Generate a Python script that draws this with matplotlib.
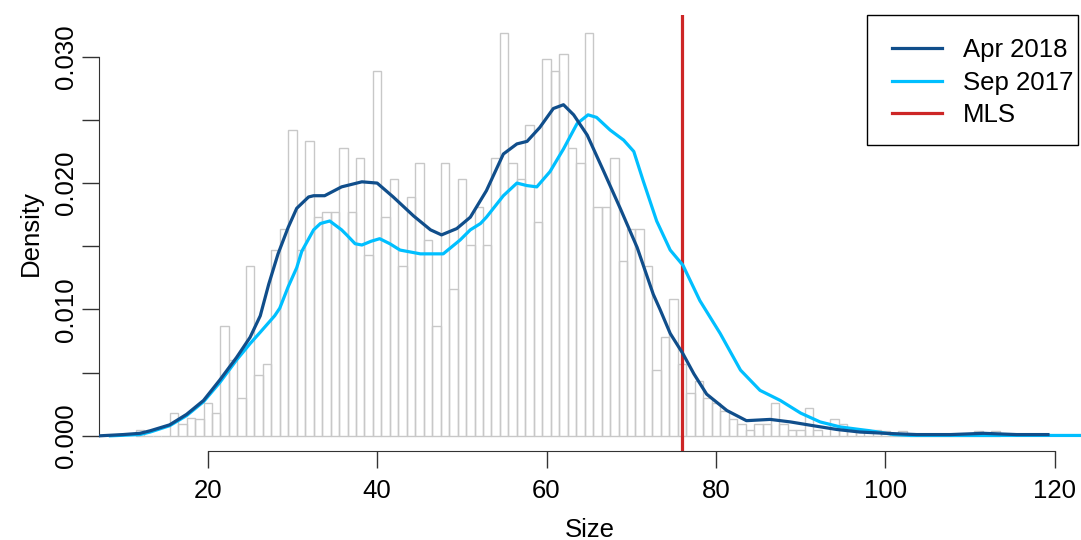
import numpy as np
import matplotlib.pyplot as plt
from matplotlib.patches import Rectangle

plt.rcParams["font.family"] = ["Liberation Sans", "DejaVu Sans"]

# histogram of sizes (bin centres, width 1) as densities
bin_centers = list(range(12, 114))
bin_density = [
    0.00045, 0, 0, 0, 0.0018, 0.0009, 0.0014, 0.0013, 0.0026, 0.0018,   # 12-21
    0.0087, 0.0060, 0.0030, 0.0134, 0.0048, 0.0057, 0.0147, 0.0164, 0.0242, 0.0147,  # 22-31
    0.0233, 0.0173, 0.0177, 0.0177, 0.0228, 0.0177, 0.0220, 0.0143, 0.0289, 0.0173,  # 32-41
    0.0203, 0.0134, 0.0189, 0.0216, 0.0155, 0.0087, 0.0216, 0.0116, 0.0203, 0.0151,  # 42-51
    0.0181, 0.0151, 0.0220, 0.0319, 0.0216, 0.0203, 0.0246, 0.0169, 0.0298, 0.0289,  # 52-61
    0.0302, 0.0228, 0.0216, 0.0319, 0.0181, 0.0181, 0.0220, 0.0138, 0.0164, 0.0164,  # 62-71
    0.0134, 0.0052, 0.0078, 0.0108, 0.0057, 0.0034, 0.0043, 0.0030, 0.0026, 0.0020,  # 72-81
    0.0013, 0.0009, 0.00045, 0.0009, 0.0009, 0.0026, 0.0009, 0.00045, 0.00045, 0.0022,  # 82-91
    0.00045, 0, 0.0013, 0.0009, 0.00045, 0.00045, 0, 0.00045, 0.0004, 0,  # 92-101
    0.0004, 0, 0, 0, 0, 0, 0, 0, 0, 0.0004,  # 102-111
    0, 0.0004,  # 112-113
]

# kernel density curves
apr_x = [7.2, 10, 12, 13.2, 15.5, 17.5, 19.5, 21.4, 23.4, 25, 26.2, 27.2, 28.3, 29.5,
         30.5, 31.9, 32.5, 33.8, 35.8, 38.2, 40, 41.9, 44.3, 46.3, 47.6, 49.4, 51,
         52.9, 54.9, 56.5, 57.7, 59.2, 60.8, 62, 63.2, 64.8, 66.7, 68.7, 70.7, 72.6,
         73.4, 74.6, 76.1, 77.4, 78.9, 81.3, 83.6, 86.4, 88.8, 91.5, 94.3, 97, 100,
         103.7, 107.7, 111.6, 115.5, 119.2]
apr_y = [0, 0.0001, 0.0002, 0.0004, 0.00087, 0.0017, 0.0028, 0.0044, 0.0062, 0.0078,
         0.0095, 0.0120, 0.0144, 0.0165, 0.0180, 0.0189, 0.0190, 0.0190, 0.0197, 0.0201,
         0.0200, 0.0189, 0.0174, 0.0163, 0.0159, 0.0164, 0.0173, 0.0194, 0.0223, 0.0231,
         0.0233, 0.0244, 0.0259, 0.0262, 0.0254, 0.0238, 0.0210, 0.0180, 0.0149, 0.0112,
         0.0100, 0.0081, 0.0065, 0.0049, 0.0033, 0.0020, 0.0012, 0.0013, 0.0011, 0.0008,
         0.0005, 0.0003, 0.0002, 0.0001, 0.0001, 0.0002, 0.0001, 0.0001]

sep_x = [8.5, 12, 13.2, 15.5, 17.5, 19.5, 21.4, 23.4, 25, 26.2, 27.9, 28.5, 29.5, 30.5,
         31.1, 32.5, 33.3, 34.4, 35.8, 36.4, 37.4, 38.2, 39.3, 40.3, 41.5, 42.7, 45.1,
         47.8, 49.8, 51, 52.2, 52.9, 54.9, 56.5, 57.7, 58.85, 60.4, 62, 63.6, 64.9, 65.9,
         67.5, 69.1, 70.3, 71.4, 73, 74.6, 76.1, 78.1, 80.5, 82.9, 85.2, 87.6, 90, 92.3,
         94.7, 97, 98.2, 101, 103, 123.2]
sep_y = [0, 0.0001, 0.0003, 0.0008, 0.0016, 0.0027, 0.0042, 0.0060, 0.0073, 0.0082,
         0.0095, 0.0101, 0.0118, 0.0133, 0.0146, 0.0163, 0.0168, 0.0170, 0.0163, 0.0159,
         0.0152, 0.0151, 0.0154, 0.0156, 0.0152, 0.0147, 0.0144, 0.0144, 0.0155, 0.0163,
         0.0168, 0.0173, 0.0190, 0.0200, 0.0198, 0.0197, 0.0209, 0.0227, 0.0247, 0.0254,
         0.0252, 0.0242, 0.0234, 0.0225, 0.0202, 0.0170, 0.0147, 0.0135, 0.0107, 0.0081,
         0.0052, 0.0036, 0.0028, 0.0018, 0.0011, 0.0007, 0.0005, 0.0004, 0.0001, 0.00003,
         0.00003]

mls = 76

W, H = 1081, 540
fig = plt.figure(figsize=(W / 100, H / 100), dpi=100)
ax = fig.add_axes([99 / W, 89 / H, 982 / W, 436 / H])

ax.bar(bin_centers, bin_density, width=1, fill=False, edgecolor="#c8c8c8",
       linewidth=1, zorder=1)
ax.axvline(mls, color="#cd2626", linewidth=2.3, zorder=2)
ax.plot(sep_x, sep_y, color="#00bfff", linewidth=2.3, zorder=3)
ax.plot(apr_x, apr_y, color="#104e8b", linewidth=2.3, zorder=4)

ax.set_xlim(7.16, 123.1)
ax.set_ylim(-0.0012, 0.0333)

for s in ["top", "right"]:
    ax.spines[s].set_visible(False)
ax.spines["left"].set_bounds(0, 0.03)
ax.spines["bottom"].set_bounds(20, 120)
ax.spines["left"].set_color("#333333")
ax.spines["bottom"].set_color("#333333")

ax.set_xticks([20, 40, 60, 80, 100, 120])
yt = np.arange(0, 0.0301, 0.005)
ax.set_yticks(yt)
ax.set_yticklabels(["0.000", "", "0.010", "", "0.020", "", "0.030"],
                   rotation=90, va="center")
ax.tick_params(axis="both", length=12, width=1, color="#333333",
               labelsize=18.5, pad=3)
ax.tick_params(axis="x", pad=8)

ax.set_xlabel("Size", fontsize=18.5, labelpad=11)
ax.set_ylabel("Density", fontsize=18.5, labelpad=8)

# legend: box drawn separately, R-style (tight on the right)
handles = [plt.Line2D([], [], color=c, linewidth=2.3)
           for c in ["#104e8b", "#00bfff", "#cd2626"]]
ax.legend(handles, ["Apr 2018", "Sep 2017", "MLS"], loc="upper left",
          bbox_to_anchor=(892 / W, 1 - 38 / H), bbox_transform=fig.transFigure,
          fontsize=18.5, frameon=False, handlelength=1.95, handletextpad=0.8,
          labelspacing=0.34, borderpad=0, borderaxespad=0)
fig.add_artist(Rectangle((867 / W, 1 - 145 / H), 211 / W, 130 / H,
                         transform=fig.transFigure, fill=False,
                         edgecolor="black", linewidth=1))

plt.savefig("out.png", dpi=100)
